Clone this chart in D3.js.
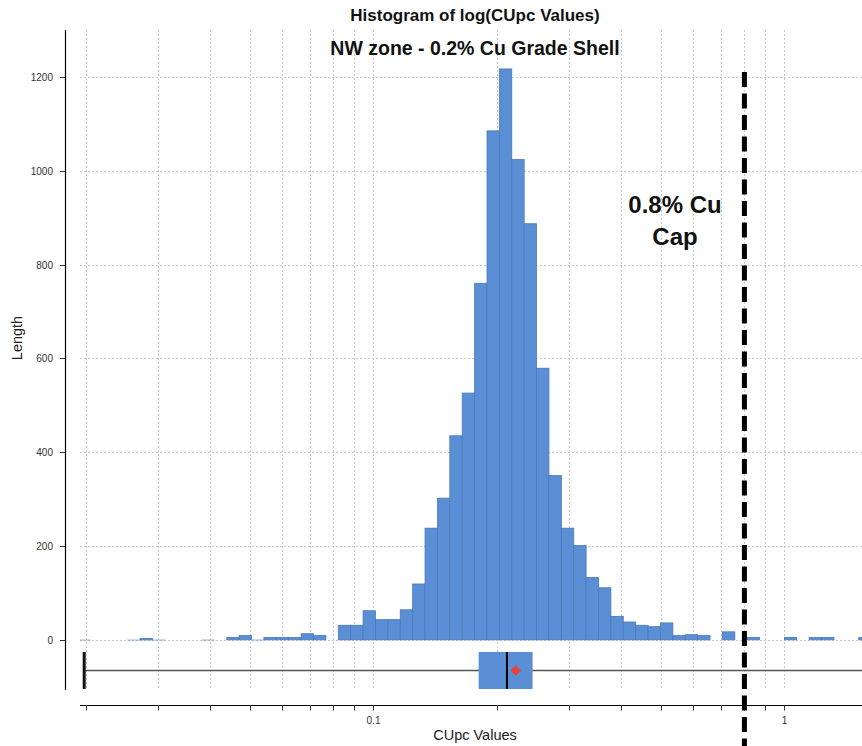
<!DOCTYPE html>
<html>
<head>
<meta charset="utf-8">
<script src="https://cdn.jsdelivr.net/npm/d3@7"></script>
<style>
  html, body { margin: 0; padding: 0; background: #fff; }
  svg { display: block; font-family: "Liberation Sans", Arial, sans-serif; }
</style>
</head>
<body>
<svg id="chart" width="862" height="746"></svg>
<script>
// ---- data ----
const title = "Histogram of log(CUpc Values)";
const subtitle = "NW zone - 0.2% Cu Grade Shell";
const capLabel = ["0.8% Cu", "Cap"];
const capValue = 0.8;
const xLabel = "CUpc Values";
const yLabel = "Length";

// histogram bins: log10 of first bin's lower edge and log10 bin width
const binStartLog10 = -1.7182;
const binWidthLog10 = 0.03015;
const binCounts = [
  1, 0, 0, 0, 1, 3, 1, 0, 0, 0, 1, 0, 5, 9, 1, 5, 5, 5, 13, 9, 0,
  31, 31, 62, 43, 43, 64, 119, 238, 302, 435, 526, 760, 1085, 1217, 1024, 887,
  579, 350, 238, 201, 133, 111, 50, 38, 31, 28, 36, 9, 11, 9, 0, 17, 0, 5, 0, 0,
  5, 0, 5, 5, 0, 0, 5
];

// box plot summary (CUpc values)
const boxStats = { min: 0.0198, q1: 0.1805, median: 0.2115, mean: 0.2223, q3: 0.2442, max: 1.7 };

const yTicks = [0, 200, 400, 600, 800, 1000, 1200];
const xTicks = [0.02, 0.03, 0.04, 0.05, 0.06, 0.07, 0.08, 0.09, 0.1,
                0.2, 0.3, 0.4, 0.5, 0.6, 0.7, 0.8, 0.9, 1];
const xTickLabels = { 0.1: "0.1", 1: "1" };

// ---- layout ----
const svg = d3.select("#chart");
const pLeft = 80, pRight = 862, pTop = 30, pBottom = 690;
const x = d3.scaleLog().domain([0.01934, 1.546]).range([pLeft, pRight]);
const y = d3.scaleLinear().domain([-107, 1300]).range([pBottom, pTop]);

const blue = "#5a8fd6";
const blueStroke = "#4a79b8";

svg.append("defs").append("clipPath").attr("id", "plotclip")
  .append("rect").attr("x", pLeft).attr("y", 0).attr("width", pRight - pLeft).attr("height", 746);

// grid
const grid = svg.append("g").attr("stroke", "#c8c8c8").attr("stroke-width", 1).attr("stroke-dasharray", "2,2");
grid.selectAll("line.v").data(xTicks).join("line").attr("class", "v")
  .attr("x1", d => Math.round(x(d)) + 0.5).attr("x2", d => Math.round(x(d)) + 0.5)
  .attr("y1", pTop).attr("y2", pBottom);
grid.selectAll("line.h").data(yTicks).join("line").attr("class", "h")
  .attr("x1", pLeft).attr("x2", pRight)
  .attr("y1", d => Math.round(y(d)) + 0.5).attr("y2", d => Math.round(y(d)) + 0.5);

// histogram
const bins = binCounts.map((c, i) => ({
  x0: Math.pow(10, binStartLog10 + i * binWidthLog10),
  x1: Math.pow(10, binStartLog10 + (i + 1) * binWidthLog10),
  count: c
})).filter(b => b.count > 0);

const plot = svg.append("g").attr("clip-path", "url(#plotclip)");
plot.selectAll("rect.bar").data(bins).join("rect")
  .attr("class", "bar")
  .attr("x", d => x(d.x0))
  .attr("width", d => x(d.x1) - x(d.x0))
  .attr("y", d => y(d.count))
  .attr("height", d => Math.max(1.5, y(0) - y(d.count)))
  .attr("fill", blue)
  .attr("fill-opacity", d => d.count < 2 ? 0.3 : 1)
  .attr("stroke", blueStroke)
  .attr("stroke-opacity", d => d.count < 2 ? 0.15 : 1)
  .attr("stroke-width", 0.8);

// box plot
const boxTop = 652, boxBot = 689, boxMid = (boxTop + boxBot) / 2;
plot.append("line")
  .attr("x1", x(boxStats.min)).attr("x2", x(boxStats.max))
  .attr("y1", boxMid).attr("y2", boxMid)
  .attr("stroke", "#555").attr("stroke-width", 1.6);
svg.append("line")
  .attr("x1", x(boxStats.min)).attr("x2", x(boxStats.min))
  .attr("y1", boxTop).attr("y2", boxBot)
  .attr("stroke", "#111").attr("stroke-width", 3);
svg.append("rect")
  .attr("x", x(boxStats.q1)).attr("width", x(boxStats.q3) - x(boxStats.q1))
  .attr("y", boxTop).attr("height", boxBot - boxTop)
  .attr("fill", blue);
svg.append("line")
  .attr("x1", x(boxStats.median)).attr("x2", x(boxStats.median))
  .attr("y1", boxTop).attr("y2", boxBot)
  .attr("stroke", "#000").attr("stroke-width", 2);
svg.append("path")
  .attr("d", d3.symbol(d3.symbolSquare, 56)())
  .attr("transform", `translate(${x(boxStats.mean)},${boxMid}) rotate(45)`)
  .attr("fill", "#e8413a");

// y axis
svg.append("line").attr("x1", 65.5).attr("x2", 65.5).attr("y1", pTop).attr("y2", pBottom)
  .attr("stroke", "#000").attr("stroke-width", 1.2);
const yt = svg.append("g").selectAll("g").data(yTicks).join("g")
  .attr("transform", d => `translate(0,${Math.round(y(d)) + 0.5})`);
yt.append("line").attr("x1", 60).attr("x2", 65).attr("stroke", "#333");
yt.append("text").attr("x", 53).attr("dy", "0.35em").attr("text-anchor", "end")
  .attr("font-size", 10).attr("fill", "#333").text(d => d);

// x axis
const xAxisY = 705.5;
svg.append("line").attr("x1", pLeft).attr("x2", pRight).attr("y1", xAxisY).attr("y2", xAxisY)
  .attr("stroke", "#000").attr("stroke-width", 1.2);
const xt = svg.append("g").selectAll("g").data(xTicks).join("g")
  .attr("transform", d => `translate(${Math.round(x(d)) + 0.5},${xAxisY})`);
xt.append("line").attr("y1", 0).attr("y2", 5).attr("stroke", "#333");
xt.append("text").attr("y", 18).attr("text-anchor", "middle")
  .attr("font-size", 10).attr("fill", "#333").text(d => xTickLabels[d] || "");

// cap line
svg.append("line")
  .attr("x1", x(capValue)).attr("x2", x(capValue))
  .attr("y1", 72).attr("y2", 746)
  .attr("stroke", "#000").attr("stroke-width", 5)
  .attr("stroke-dasharray", "15,6.5");

// labels
svg.append("text").attr("x", 475).attr("y", 21).attr("text-anchor", "middle")
  .attr("font-size", 17).attr("font-weight", "bold").attr("fill", "#111").text(title);
svg.append("text").attr("x", 475).attr("y", 55).attr("text-anchor", "middle")
  .attr("font-size", 19.5).attr("font-weight", "bold").attr("fill", "#111").text(subtitle);
svg.append("text").attr("x", 675).attr("y", 213).attr("text-anchor", "middle")
  .attr("font-size", 24).attr("font-weight", "bold").attr("fill", "#111").text(capLabel[0]);
svg.append("text").attr("x", 675).attr("y", 245).attr("text-anchor", "middle")
  .attr("font-size", 24).attr("font-weight", "bold").attr("fill", "#111").text(capLabel[1]);
svg.append("text").attr("x", 475).attr("y", 740).attr("text-anchor", "middle")
  .attr("font-size", 14.5).attr("fill", "#222").text(xLabel);
svg.append("text").attr("transform", "translate(22,338) rotate(-90)").attr("text-anchor", "middle")
  .attr("font-size", 14.5).attr("fill", "#222").text(yLabel);
</script>
</body>
</html>
